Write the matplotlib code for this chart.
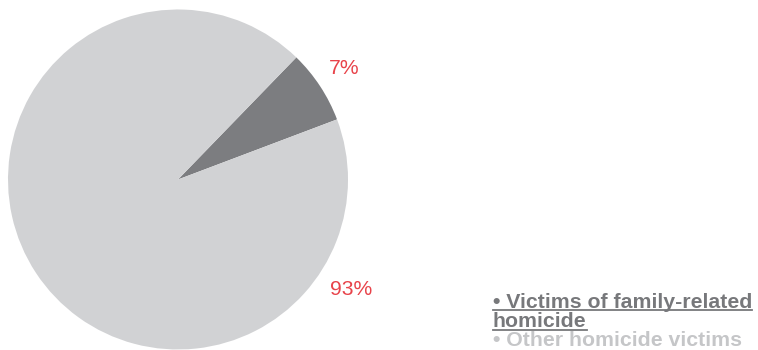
import matplotlib
matplotlib.use("Agg")
import matplotlib.pyplot as plt
import numpy as np

# data #
labels = ["Victims of family-related homicide", "Other homicide victims"]
shares = [7, 93]
colors = ["#7c7d80", "#d1d2d4"]
legend_colors = ["#77787b", "#c5c6c8"]
legend_lines = [["\u2022 Victims of family-related", "homicide"], ["\u2022 Other homicide victims"]]
pct_color = "#e8434a"

W, H = 758, 350
fig = plt.figure(figsize=(W / 100, H / 100), dpi=100)

# pie axes placed in pixels: centre (178, 179.5), radius 170
cx, cy, r = 178, 179.5, 170
ax = fig.add_axes([(cx - r) / W, (H - cy - r) / H, 2 * r / W, 2 * r / H])
start = 20.7  # the small slice starts here and runs anticlockwise
wedges, _ = ax.pie(shares, colors=colors, startangle=start, counterclock=True,
                   radius=1, wedgeprops=dict(linewidth=0))
ax.set_xlim(-1, 1)
ax.set_ylim(-1, 1)
ax.set_aspect("equal")
ax.axis("off")

# percentage labels
label_pos = [(0.98, 0.655), (1.02, -0.645)]
for val, (x, y) in zip(shares, label_pos):
    ax.text(x, y, f"{val}%", color=pct_color, fontsize=15.2, family="Liberation Sans",
            ha="center", va="center", clip_on=False)

# legend as text lines
tx = 493
baselines = [[307.5, 327], [346.5]]
for lines, ys, col, under in zip(legend_lines, baselines, legend_colors, [True, False]):
    for line, y in zip(lines, ys):
        t = fig.text(tx / W, 1 - y / H, line, color=col, fontsize=15.3, fontweight="bold",
                     family="Liberation Sans", ha="left", va="baseline")
        if under:
            fig.canvas.draw()
            bb = t.get_window_extent()
            uy = (H - y - 2.5) / H
            fig.add_artist(plt.Line2D([bb.x0 / W, bb.x1 / W], [uy, uy], color=col, lw=1.3))

fig.savefig("out.png", dpi=100)
